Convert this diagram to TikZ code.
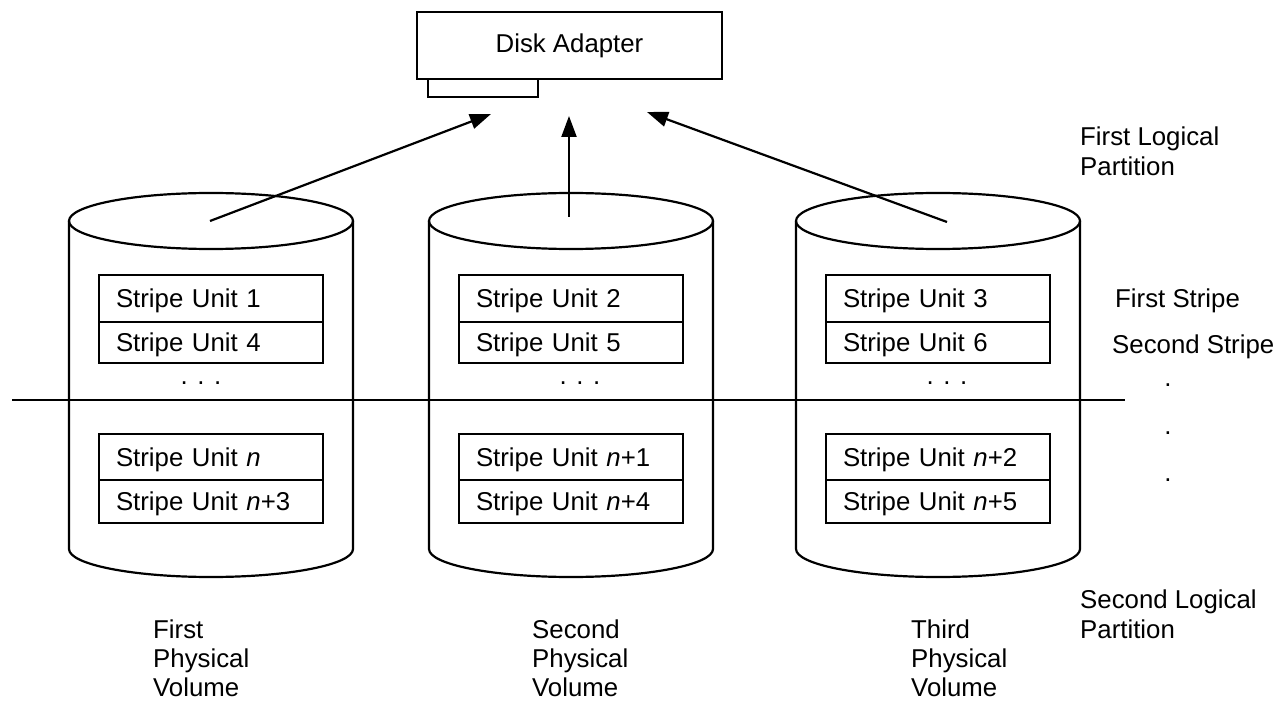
\documentclass[tikz,border=0pt]{standalone}
\usepackage{fontspec}
\setmainfont{Liberation Sans}
\usetikzlibrary{arrows.meta}
\tikzset{
  lw/.style={line width=2.2pt},
  unitbox/.style={draw, lw, rectangle, inner xsep=17pt, inner ysep=0pt, text width=190pt, align=left, text depth=0pt},
  lbl/.style={inner sep=0pt, align=left},
  arr/.style={lw, -{Triangle[length=21pt,width=15pt]}},
  every node/.style={font=\fontsize{25.8}{30}\selectfont}
}
\newcommand{\cyl}[1]{%
  \draw[lw] (#1,221) ellipse [x radius=142pt, y radius=28pt];
  \draw[lw] (#1-142,221) -- (#1-142,549) arc[start angle=180, end angle=360, x radius=142pt, y radius=28pt] -- (#1+142,221);
}
\begin{document}
\begin{tikzpicture}[x=1pt,y=-1pt]
\useasboundingbox (0,0) rectangle (1287,703);
% disk adapter
\node[draw, lw, minimum width=305pt, minimum height=67pt, inner sep=0pt] (da) at (569.5,45.5) {Disk Adapter};
\draw[lw] (428,79) rectangle (538,97);
% cylinders
\cyl{211}
\cyl{571}
\cyl{938}
% stripe units
\foreach \cx/\a/\b/\c/\d/\k in {211/1/4/{\textit{n}}/{\textit{n}+3}/1, 571/2/5/{\textit{n}+1}/{\textit{n}+4}/2, 938/3/6/{\textit{n}+2}/{\textit{n}+5}/3}{
  \node[unitbox, minimum height=47pt] (ua\k) at (\cx,298.5) {Stripe Unit \a};
  \node[unitbox, minimum height=41pt] (ub\k) at (\cx,342.5) {Stripe Unit \b};
  \node[unitbox, minimum height=46pt] (uc\k) at (\cx,457) {Stripe Unit \c};
  \node[unitbox, minimum height=43pt] (ud\k) at (\cx,501.5) {Stripe Unit \d};
}
% dots in cylinders
\node[lbl, anchor=base] (d1) at (201,384) {. . .};
\node[lbl, anchor=base] (d2) at (580,384) {. . .};
\node[lbl, anchor=base] (d3) at (947,384) {. . .};
% partition line
\coordinate (pl) at (12,400);
\coordinate (pr) at (1125,400);
\draw[lw] (pl) -- (pr);
% arrows
\coordinate (s1) at (210,221);
\coordinate (t1) at (491,114);
\coordinate (s2) at (569,217);
\coordinate (t2) at (569,116);
\coordinate (s3) at (947,222);
\coordinate (t3) at (647,112);
\draw[arr] (s1) -- (t1);
\draw[arr] (s2) -- (t2);
\draw[arr] (s3) -- (t3);
% right labels
\node[lbl, anchor=north west] (flp) at (1080,127) {First Logical\\Partition};
\node[lbl, anchor=west, text depth=0pt] (fs) at (1115,298) {First Stripe};
\node[lbl, anchor=west, text depth=0pt] (ss) at (1112,344.5) {Second Stripe};
\node[lbl, anchor=base] (r1) at (1168,386) {.};
\node[lbl, anchor=base] (r2) at (1168,434) {.};
\node[lbl, anchor=base] (r3) at (1168,481) {.};
\node[lbl, anchor=north west] (slp) at (1080,590) {Second Logical\\Partition};
% volume labels
\tikzset{vol/.style={lbl, anchor=north west, font=\fontsize{25.8}{29}\selectfont}}
\node[vol] (v1) at (153,620) {First\\Physical\\Volume};
\node[vol] (v2) at (532,620) {Second\\Physical\\Volume};
\node[vol] (v3) at (911,620) {Third\\Physical\\Volume};
\end{tikzpicture}
\end{document}
